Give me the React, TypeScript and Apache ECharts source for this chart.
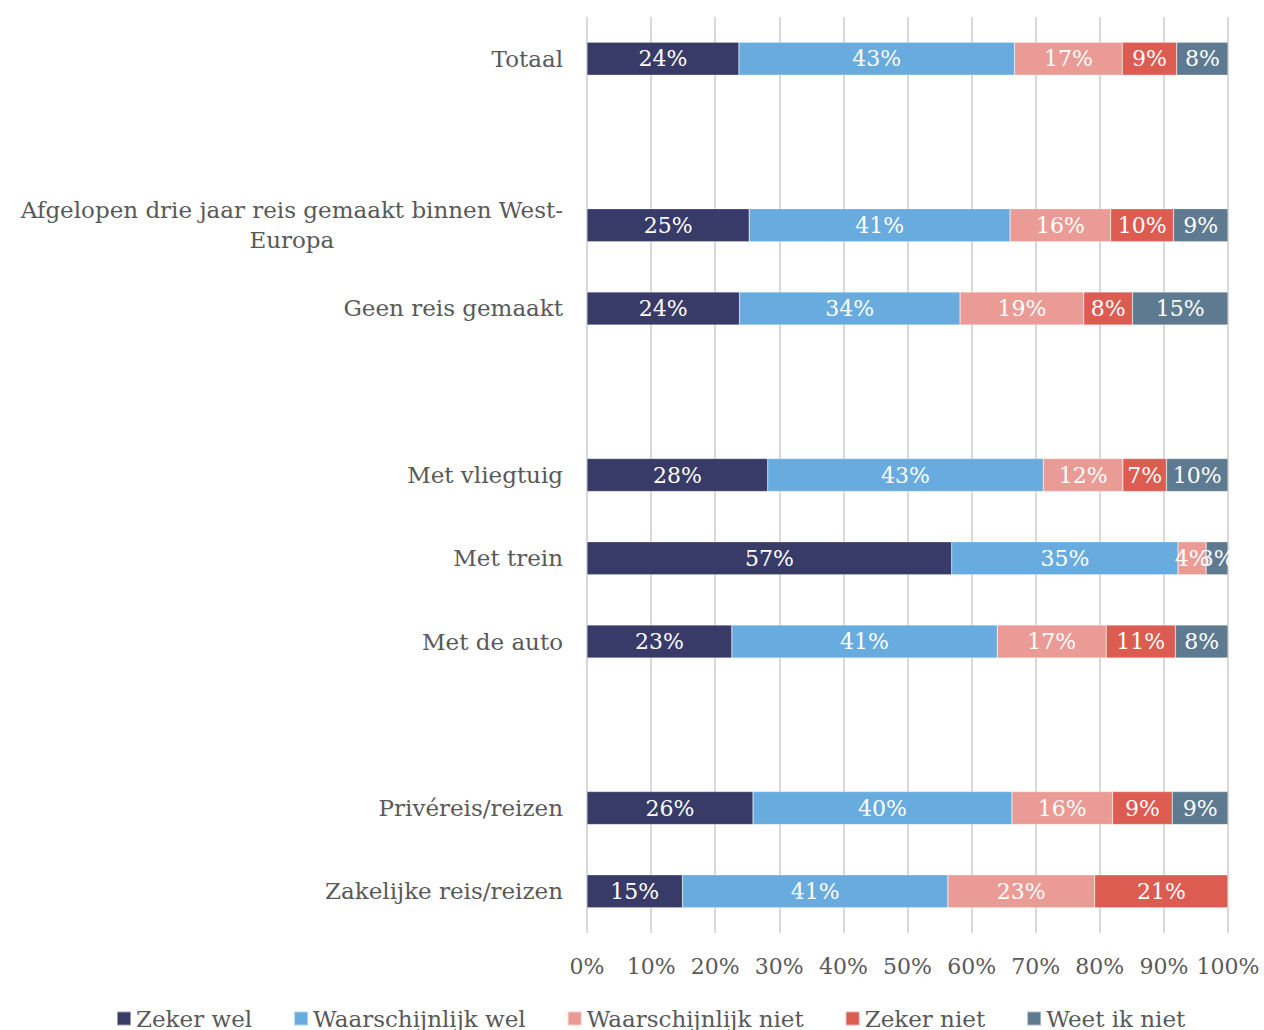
import React, { useEffect, useRef } from "react";
import * as echarts from "echarts";

const categories = [
  "Totaal",
  " ",
  "Afgelopen drie jaar reis gemaakt binnen West-\nEuropa",
  "Geen reis gemaakt",
  "  ",
  "Met vliegtuig",
  "Met trein",
  "Met de auto",
  "   ",
  "Privéreis/reizen",
  "Zakelijke reis/reizen",
];

const seriesNames = [
  "Zeker wel",
  "Waarschijnlijk wel",
  "Waarschijnlijk niet",
  "Zeker niet",
  "Weet ik niet",
];

const zekerWel = [23.7, null, 25.3, 23.8, null, 28.2, 56.9, 22.6, null, 25.9, 14.9];
const waarschijnlijkWel = [43.0, null, 40.7, 34.4, null, 43.0, 35.3, 41.4, null, 40.4, 41.4];
const waarschijnlijkNiet = [16.8, null, 15.7, 19.3, null, 12.4, 4.4, 17.0, null, 15.7, 22.9];
const zekerNiet = [8.5, null, 9.8, 7.6, null, 6.8, 0, 10.8, null, 9.3, 20.8];
const weetIkNiet = [8.0, null, 8.5, 14.9, null, 9.6, 3.4, 8.2, null, 8.7, 0];

const xTicks = [0, 10, 20, 30, 40, 50, 60, 70, 80, 90, 100];

const colors = ["#383a68", "#67abdf", "#ea9b95", "#dd5c52", "#5e7a91"];

const FONT = "'DejaVu Serif', serif";
const TEXT_COLOR = "#595959";

export default function App() {
  const ref = useRef<HTMLDivElement>(null);

  useEffect(() => {
    if (!ref.current) return;
    const chart = echarts.init(ref.current, undefined, { renderer: "svg" });
    const allData = [zekerWel, waarschijnlijkWel, waarschijnlijkNiet, zekerNiet, weetIkNiet];
    const option: any = {
      animation: false,
      color: colors,
      textStyle: { fontFamily: FONT },
      grid: { left: 587, right: 36, top: 17, bottom: 97, containLabel: false },
      legend: {
        data: seriesNames,
        left: 111,
        top: 1002,
        icon: "rect",
        itemWidth: 14,
        itemHeight: 14,
        itemGap: 41,
        textStyle: { fontFamily: FONT, fontSize: 23, color: TEXT_COLOR },
      },
      xAxis: {
        type: "value",
        min: 0,
        max: 100,
        interval: 10,
        axisLine: { show: false },
        axisTick: { show: false },
        splitLine: { show: true, lineStyle: { color: "#d9d9d9", width: 2 } },
        axisLabel: {
          fontFamily: FONT,
          fontSize: 22,
          color: TEXT_COLOR,
          margin: 22,
          formatter: (v: number) => (xTicks.includes(v) ? v + "%" : ""),
        },
      },
      yAxis: {
        type: "category",
        inverse: true,
        data: categories,
        axisLine: { show: false },
        axisTick: { show: false },
        axisLabel: {
          margin: 24,
          fontFamily: FONT,
          fontSize: 23,
          color: TEXT_COLOR,
          lineHeight: 30,
          formatter: (v: string) =>
            v
              .split("\n")
              .map((line) => "{c|" + line + "}")
              .join("\n"),
          rich: {
            c: {
              align: "center",
              fontFamily: FONT,
              fontSize: 23,
              color: TEXT_COLOR,
              lineHeight: 30,
            },
          },
        },
      },
      series: seriesNames.map((name, i) => ({
        name,
        type: "bar",
        stack: "total",
        barWidth: 33,
        data: allData[i],
        itemStyle: { color: colors[i], borderColor: "rgba(255,255,255,0.5)", borderWidth: 0.5 },
        label: {
          show: true,
          position: "inside",
          color: "#ffffff",
          fontFamily: FONT,
          fontSize: 22,
          formatter: (p: any) =>
            p.value == null || p.value < 0.5 ? "" : Math.round(p.value) + "%",
        },
      })),
    };
    chart.setOption(option);
    return () => chart.dispose();
  }, []);

  return <div ref={ref} style={{ width: 1264, height: 1030, position: "absolute", left: 0, top: 0 }} />;
}
